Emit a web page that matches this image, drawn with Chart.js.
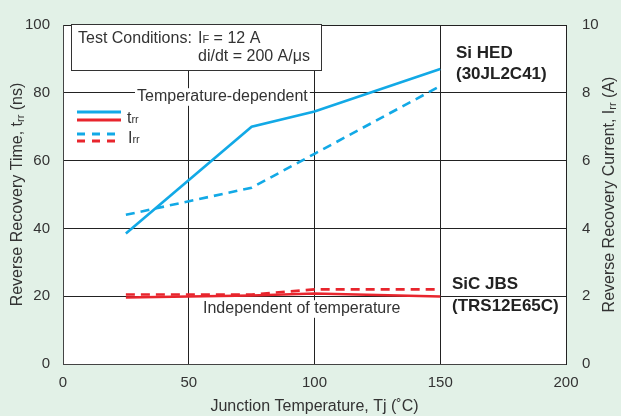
<!DOCTYPE html>
<html>
<head>
<meta charset="utf-8">
<script src="https://cdn.jsdelivr.net/npm/chart.js@4"></script>
<style>
html, body { margin: 0; padding: 0; background: #e2f1e7; }
#wrap { width: 621px; height: 416px; }
</style>
</head>
<body>
<div id="wrap"><canvas id="trrChart" width="621" height="416"></canvas></div>
<script>
// values
const temps = [25, 75, 100, 150];
const siHedTrr = [38.5, 70, 74.5, 87];
const siHedIrr = [4.4, 5.2, 6.2, 8.2];
const sicJbsTrr = [19.6, 20.2, 20.8, 19.9];
const sicJbsIrr = [2.05, 2.05, 2.2, 2.2];

const xTicks = [0, 50, 100, 150, 200];
const trrTicks = [0, 20, 40, 60, 80, 100];
const irrTicks = [0, 2, 4, 6, 8, 10];

const BLUE = '#12a9e6';
const RED = '#e8252d';
const TXT = '#333';
const FONT = '"Liberation Sans", Arial, sans-serif';

function pts(xs, ys) {
    return xs.map((x, i) => ({ x: x, y: ys[i] }));
}

// draw a run of text pieces, some of them as small subscripts
function richWidth(ctx, parts) {
    let w = 0;
    parts.forEach(p => {
        ctx.font = (p.bold ? 'bold ' : '') + p.size + 'px ' + FONT;
        w += ctx.measureText(p.t).width;
    });
    return w;
}
function drawRich(ctx, parts, x, y) {
    ctx.textBaseline = 'alphabetic';
    ctx.textAlign = 'left';
    parts.forEach(p => {
        ctx.font = (p.bold ? 'bold ' : '') + p.size + 'px ' + FONT;
        ctx.fillText(p.t, x, y + (p.dy || 0));
        x += ctx.measureText(p.t).width;
    });
}
function textBg(ctx, str, x, cy, size, bold) {
    ctx.font = (bold ? 'bold ' : '') + size + 'px ' + FONT;
    const w = ctx.measureText(str).width;
    ctx.fillStyle = '#fff';
    ctx.fillRect(x - 2, cy - size * 0.55, w + 4, size * 1.1);
    ctx.fillStyle = TXT;
    ctx.textBaseline = 'middle';
    ctx.textAlign = 'left';
    ctx.fillText(str, x, cy);
}
function sample(ctx, color, dash, x1, x2, y) {
    ctx.save();
    ctx.strokeStyle = color;
    ctx.lineWidth = 3;
    ctx.setLineDash(dash);
    ctx.beginPath();
    ctx.moveTo(x1, y);
    ctx.lineTo(x2, y);
    ctx.stroke();
    ctx.restore();
}

const backdrop = {
    id: 'backdrop',
    beforeDraw(chart) {
        const ctx = chart.ctx, a = chart.chartArea;
        ctx.save();
        ctx.fillStyle = '#e2f1e7';
        ctx.fillRect(0, 0, chart.width, chart.height);
        ctx.fillStyle = '#fff';
        ctx.fillRect(a.left, a.top, a.right - a.left, a.bottom - a.top);
        ctx.restore();
    }
};

const notes = {
    id: 'notes',
    beforeDatasetsDraw(chart) {
        const ctx = chart.ctx;
        ctx.save();

        // test conditions box
        ctx.fillStyle = '#fff';
        ctx.fillRect(71, 24, 250, 46);
        ctx.strokeStyle = '#333';
        ctx.lineWidth = 1;
        ctx.strokeRect(71.5, 24.5, 250, 46);
        ctx.fillStyle = TXT;
        drawRich(ctx, [{ t: 'Test Conditions: ', size: 16 }], 78, 43);
        drawRich(ctx, [{ t: 'I', size: 16 }, { t: 'F', size: 11 }, { t: ' = 12 A', size: 16 }], 198, 43);
        drawRich(ctx, [{ t: 'di/dt = 200 A/\u03bcs', size: 16 }], 198, 61);

        // legend
        textBg(ctx, 'Temperature-dependent', 137, 97, 16);
        sample(ctx, BLUE, [], 77, 121, 112);
        sample(ctx, RED, [], 77, 121, 120);
        sample(ctx, BLUE, [8, 7], 77, 121, 134);
        sample(ctx, RED, [8, 7], 77, 121, 141);
        ctx.fillStyle = TXT;
        drawRich(ctx, [{ t: 't', size: 16 }, { t: 'rr', size: 11 }], 127, 123);
        drawRich(ctx, [{ t: 'I', size: 16 }, { t: 'rr', size: 11 }], 128, 143);

        textBg(ctx, 'Independent of temperature', 203, 309, 16);

        // device labels
        ctx.fillStyle = '#222';
        ctx.textBaseline = 'middle';
        ctx.font = 'bold 17px ' + FONT;
        ctx.fillText('Si HED', 456, 53);
        ctx.fillText('(30JL2C41)', 456, 74);
        ctx.fillText('SiC JBS', 452, 284);
        ctx.fillText('(TRS12E65C)', 452, 306);
        ctx.restore();
    },
    afterDraw(chart) {
        const ctx = chart.ctx, a = chart.chartArea;
        const cy = (a.top + a.bottom) / 2;
        ctx.save();
        ctx.fillStyle = TXT;
        const left = [{ t: 'Reverse Recovery Time, t', size: 16 }, { t: 'rr', size: 11, dy: 2 }, { t: ' (ns)', size: 16 }];
        const right = [{ t: 'Reverse Recovery Current, I', size: 16 }, { t: 'rr', size: 11, dy: 2 }, { t: ' (A)', size: 16 }];
        [[left, 22], [right, 614]].forEach(([parts, x]) => {
            ctx.save();
            ctx.translate(x, cy);
            ctx.rotate(-Math.PI / 2);
            drawRich(ctx, parts, -richWidth(ctx, parts) / 2, 0);
            ctx.restore();
        });
        ctx.restore();
    }
};

const tickFont = { family: FONT, size: 15 };

new Chart(document.getElementById('trrChart'), {
    type: 'line',
    data: {
        datasets: [{
            label: 'Si HED trr',
            data: pts(temps, siHedTrr),
            borderColor: BLUE,
            borderWidth: 2.6,
            yAxisID: 'y'
        }, {
            label: 'Si HED Irr',
            data: pts(temps, siHedIrr),
            borderColor: BLUE,
            borderWidth: 2.6,
            borderDash: [9, 6],
            yAxisID: 'y1'
        }, {
            label: 'SiC JBS trr',
            data: pts(temps, sicJbsTrr),
            borderColor: RED,
            borderWidth: 2.6,
            yAxisID: 'y'
        }, {
            label: 'SiC JBS Irr',
            data: pts(temps, sicJbsIrr),
            borderColor: RED,
            borderWidth: 2.6,
            borderDash: [9, 6],
            yAxisID: 'y1'
        }]
    },
    options: {
        responsive: false,
        animation: false,
        layout: { padding: { top: 16 } },
        elements: { point: { radius: 0 }, line: { tension: 0 } },
        plugins: { legend: { display: false }, tooltip: { enabled: false } },
        scales: {
            x: {
                type: 'linear',
                min: 0, max: 200,
                afterBuildTicks: s => { s.ticks = xTicks.map(v => ({ value: v })); },
                afterFit: s => { s.height = 52; },
                grid: { color: '#222', drawTicks: false },
                border: { color: '#444' },
                ticks: { color: TXT, font: tickFont, padding: 10, maxRotation: 0 },
                title: { display: true, text: 'Junction Temperature, Tj (\u02daC)', color: TXT, font: { family: FONT, size: 16 }, padding: { top: 0, bottom: 0 } }
            },
            y: {
                position: 'left',
                min: 0, max: 100,
                afterBuildTicks: s => { s.ticks = trrTicks.map(v => ({ value: v })); },
                afterFit: s => { s.width = 63; },
                grid: { color: '#222', drawTicks: false },
                border: { color: '#444' },
                ticks: { color: TXT, font: tickFont, padding: 13 }
            },
            y1: {
                position: 'right',
                min: 0, max: 10,
                afterBuildTicks: s => { s.ticks = irrTicks.map(v => ({ value: v })); },
                afterFit: s => { s.width = 55; },
                grid: { display: false, drawTicks: false },
                border: { color: '#222' },
                ticks: { color: TXT, font: tickFont, padding: 16 }
            }
        }
    },
    plugins: [backdrop, notes]
});
</script>
</body>
</html>
